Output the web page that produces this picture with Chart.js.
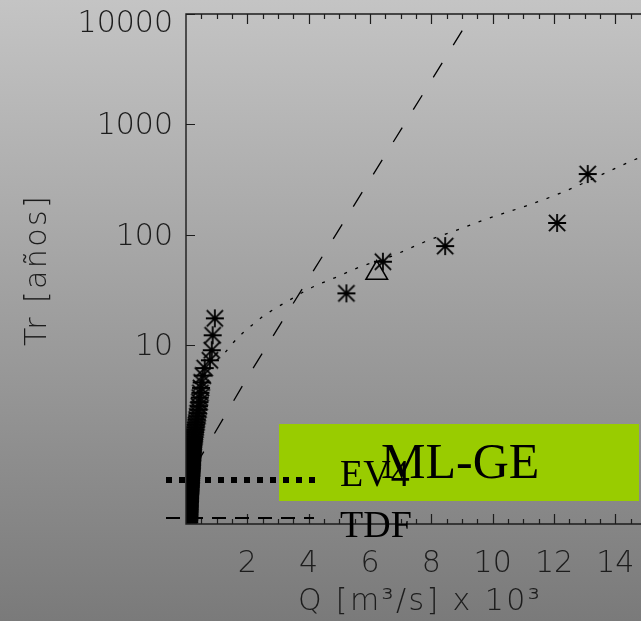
<!DOCTYPE html>
<html>
<head>
<meta charset="utf-8">
<script src="https://cdn.jsdelivr.net/npm/chart.js@4.4.1/dist/chart.umd.min.js"></script>
<style>
  html, body { margin: 0; padding: 0; width: 641px; height: 621px; overflow: hidden; }
  body { position: relative; background: linear-gradient(to bottom, #c4c4c4, #7a7a7a); }
  #chart { position: absolute; left: 0; top: 0; }
  .key { position: absolute; }
  #keyBox { left: 279px; top: 424px; width: 360px; height: 77px; background: #99cc00; }
  #keyEv4 { left: 166px; top: 477px; width: 152px; height: 6px;
            background: repeating-linear-gradient(to right, #000 0 6px, transparent 6px 13px); }
  #keyTdf { left: 166px; top: 517px; width: 148px; height: 2px;
            background: repeating-linear-gradient(to right, #000 0 14px, transparent 14px 23px); }
  .serif { position: absolute; font-family: 'Liberation Serif', 'Times New Roman', serif;
           color: #000; line-height: 1; white-space: nowrap; }
  .axisTitle { position: absolute; font-family: 'DejaVu Sans', sans-serif; font-weight: 200;
               font-size: 30px; line-height: 36px; height: 36px; color: #1c1c1c;
               letter-spacing: 2.4px; white-space: nowrap; text-align: center; }
  #xTitle { left: 220px; width: 400px; top: 582px; }
  #yTitle { left: -164px; width: 400px; top: 252px; transform: rotate(-90deg); }
</style>
</head>
<body>
<canvas id="chart" width="660" height="621"></canvas>
<div class="axisTitle" id="xTitle">Q [m³/s] x 10³</div>
<div class="axisTitle" id="yTitle">Tr [años]</div>
<div class="key" id="keyBox"></div>
<div class="key" id="keyEv4"></div>
<div class="serif" style="left:340px; top:454px; font-size:38px;">EV4</div>
<div class="serif" style="left:381px; top:436px; font-size:50px;">ML-GE</div>
<div class="key" id="keyTdf"></div>
<div class="serif" style="left:340px; top:505px; font-size:38px;">TDF</div>

<script>
// Systematic record of annual peak flows (Q in thousands of m3/s) and return periods
const clusterQ = [0.94, 0.87, 0.84, 0.78, 0.61, 0.55, 0.51, 0.49, 0.47, 0.45,
                  0.44, 0.42, 0.40, 0.38, 0.37, 0.35, 0.34, 0.32, 0.31, 0.30,
                  0.29, 0.28, 0.27, 0.26, 0.25, 0.245, 0.24, 0.235, 0.23, 0.225,
                  0.22, 0.22, 0.215, 0.21, 0.21, 0.205, 0.205, 0.20, 0.20, 0.195,
                  0.195, 0.19, 0.19, 0.19, 0.185, 0.185, 0.18, 0.18, 0.175, 0.175,
                  0.17, 0.17, 0.17, 0.165, 0.165, 0.16, 0.16, 0.16, 0.155, 0.155,
                  0.15, 0.15, 0.15, 0.145, 0.145, 0.145, 0.14, 0.14, 0.14, 0.135,
                  0.135, 0.135, 0.13, 0.13, 0.13, 0.13, 0.125, 0.125, 0.125, 0.12,
                  0.12, 0.12, 0.12, 0.115, 0.115, 0.115, 0.11, 0.11, 0.11, 0.105,
                  0.105, 0.10];
const clusterTr = [17.5, 12.3, 9.0, 7.3, 6.2, 5.3, 4.6, 4.1, 3.7, 3.35,
                   3.05, 2.8, 2.6, 2.42, 2.27, 2.13, 2.0, 1.9, 1.8, 1.71,
                   1.63, 1.56, 1.49, 1.43, 1.38, 1.33, 1.28, 1.24, 1.2, 1.16,
                   1.12, 1.09, 1.06, 1.03, 1.0, 0.97, 0.95, 0.92, 0.9, 0.88,
                   0.86, 0.84, 0.82, 0.8, 0.78, 0.76, 0.75, 0.73, 0.72, 0.7,
                   0.69, 0.67, 0.66, 0.65, 0.63, 0.62, 0.61, 0.6, 0.58, 0.57,
                   0.56, 0.55, 0.54, 0.53, 0.52, 0.51, 0.5, 0.49, 0.48, 0.47,
                   0.46, 0.45, 0.44, 0.43, 0.42, 0.41, 0.4, 0.39, 0.38, 0.37,
                   0.36, 0.35, 0.34, 0.33, 0.32, 0.31, 0.3, 0.29, 0.28, 0.27,
                   0.26, 0.25];

// Historical floods
const histQ  = [5.23, 6.42, 8.45, 12.1, 13.1];
const histTr = [29.5, 57, 79, 128, 355];

// Estimated flood (triangle)
const estQ  = [6.22];
const estTr = [45];

// EV4 fitted distribution
const ev4Q  = [1.0, 1.26, 1.52, 1.84, 2.23, 2.55, 2.97, 3.35, 4.1, 4.87,
               5.7, 6.58, 7.77, 8.94, 9.8, 11.1, 12.3, 13.45, 14.3, 15.0];
const ev4Tr = [7.3, 8.5, 10.4, 12.8, 15.8, 18.6, 22, 25.4, 33.3, 41,
               51.5, 62, 86, 113, 139, 183, 244, 340, 437, 530];

// TDF fitted distribution
const tdfQ  = [0.3, 2.0, 3.7, 6.0, 9.03, 9.4];
const tdfTr = [0.8, 5.1, 29.5, 316, 7250, 10600];

// Axis ticks
const xTickLabels = [2, 4, 6, 8, 10, 12, 14];
const yTickValues = [10, 100, 1000, 10000];

const pairs = (xs, ys) => xs.map((q, i) => ({ x: q, y: ys[i] }));

// Eight-armed asterisk marker
function asterisk(size, lw) {
  const c = document.createElement('canvas');
  c.width = c.height = size;
  const g = c.getContext('2d');
  const m = size / 2, r = size / 2 - 1, d = r * 0.9;
  g.strokeStyle = '#000';
  g.lineWidth = lw;
  g.beginPath();
  g.moveTo(m - r, m); g.lineTo(m + r, m);
  g.moveTo(m, m - r); g.lineTo(m, m + r);
  g.moveTo(m - d, m - d); g.lineTo(m + d, m + d);
  g.moveTo(m + d, m - d); g.lineTo(m - d, m + d);
  g.stroke();
  return c;
}
const star = asterisk(20, 1.8);

const labelFont = { family: "'DejaVu Sans', sans-serif", size: 30, weight: '200' };
const inkColor = '#1c1c1c';

// Plot frame with inward tick marks, and the Tr labels kept inside the frame height
const framePlugin = {
  id: 'frame',
  afterDatasetsDraw(chart) {
    const { ctx, chartArea: { left, top, right, bottom }, scales: { x, y } } = chart;
    ctx.save();
    ctx.strokeStyle = inkColor;
    ctx.lineWidth = 1.4;
    ctx.beginPath();
    ctx.moveTo(left, top); ctx.lineTo(right, top);
    ctx.lineTo(right, bottom); ctx.lineTo(left, bottom); ctx.closePath();
    ctx.stroke();
    ctx.lineWidth = 1.2;
    ctx.beginPath();
    for (let v = 0.5; v < x.max; v += 0.5) {
      const px = Math.round(x.getPixelForValue(v)) + 0.5;
      const len = (v % 2 === 0) ? 10 : 5;
      ctx.moveTo(px, bottom); ctx.lineTo(px, bottom - len);
      ctx.moveTo(px, top); ctx.lineTo(px, top + len);
    }
    y.ticks.forEach(t => {
      const py = Math.round(y.getPixelForValue(t.value)) + 0.5;
      ctx.moveTo(left, py); ctx.lineTo(left + 9, py);
    });
    ctx.stroke();

    ctx.fillStyle = inkColor;
    ctx.font = `${labelFont.weight} ${labelFont.size}px ${labelFont.family}`;
    ctx.textAlign = 'right';
    ctx.textBaseline = 'middle';
    y.ticks.forEach(t => {
      const py = y.getPixelForValue(t.value);
      const shift = (t.value >= y.max) ? 10 : 2;
      ctx.fillText(String(t.value), left - 13, py + shift);
    });
    ctx.restore();
  }
};

new Chart(document.getElementById('chart'), {
  type: 'scatter',
  data: {
    datasets: [
      {
        label: 'Histórico',
        data: pairs(histQ, histTr),
        pointStyle: star, pointRadius: 9, pointHoverRadius: 9,
        showLine: false, clip: 0
      },
      {
        label: 'Sistemático',
        data: pairs(clusterQ, clusterTr),
        pointStyle: star, pointRadius: 9, pointHoverRadius: 9,
        showLine: false, clip: 0
      },
      {
        label: 'Estimado',
        data: pairs(estQ, estTr),
        pointStyle: 'triangle', pointRadius: 12.5,
        borderColor: '#000', backgroundColor: 'rgba(0,0,0,0)', borderWidth: 1.5,
        showLine: false, clip: 0
      },
      {
        label: 'EV4',
        data: pairs(ev4Q, ev4Tr),
        showLine: true, pointRadius: 0,
        borderColor: '#000', borderWidth: 1.3, borderDash: [3, 9],
        cubicInterpolationMode: 'monotone', clip: 0
      },
      {
        label: 'TDF',
        data: pairs(tdfQ, tdfTr),
        showLine: true, pointRadius: 0,
        borderColor: '#000', borderWidth: 1.3, borderDash: [17, 21], clip: 0
      }
    ]
  },
  options: {
    responsive: false,
    animation: false,
    events: [],
    layout: { padding: { top: 13, right: 9, left: 0, bottom: 0 } },
    plugins: { legend: { display: false }, tooltip: { enabled: false } },
    scales: {
      x: {
        type: 'linear', position: 'bottom', min: 0, max: 15,
        grid: { display: false, drawTicks: false },
        border: { display: false },
        afterBuildTicks: s => { s.ticks = xTickLabels.map(v => ({ value: v })); },
        afterFit: s => { s.height = 97; s.paddingLeft = 0; s.paddingRight = 0; },
        ticks: {
          autoSkip: false, maxRotation: 0, padding: 22,
          font: labelFont, color: inkColor,
          callback: v => String(v)
        }
      },
      y: {
        type: 'logarithmic', position: 'left', min: 0.24, max: 10000,
        grid: { display: false, drawTicks: false },
        border: { display: false },
        afterBuildTicks: s => { s.ticks = yTickValues.map(v => ({ value: v })); },
        afterFit: s => { s.width = 186; s.paddingTop = 0; s.paddingBottom = 0; },
        ticks: { display: false }
      }
    }
  },
  plugins: [framePlugin]
});
</script>
</body>
</html>
